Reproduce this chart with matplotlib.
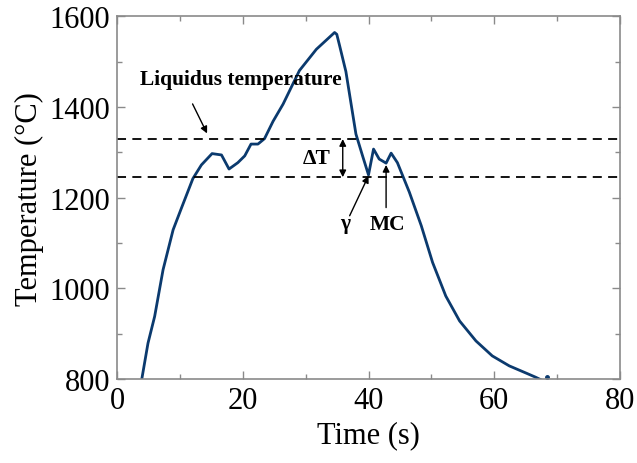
import matplotlib
matplotlib.use('Agg')
import matplotlib.pyplot as plt
from matplotlib.ticker import MultipleLocator

time_s = [3.94, 4.9, 5.96, 7.3, 8.9, 10.2, 12.05, 13.4, 15.1, 16.6, 17.8, 19.2,
          20.3, 21.3, 22.4, 23.45, 24.8, 26.4, 29.0, 31.7, 34.6, 34.95, 35.4,
          36.4, 38.0, 39.1, 40.0, 40.8, 41.7, 42.8, 43.6, 44.6, 46.5, 48.4, 50.2,
          52.3, 54.5, 57.1, 59.7, 62.4, 65.1, 66.6, 67.5]
temp_c = [802, 879, 938, 1041, 1129, 1176, 1242, 1272, 1297, 1294, 1263, 1277,
          1292, 1318, 1318, 1330, 1368, 1406, 1480, 1527, 1564, 1560, 1535,
          1478, 1340, 1290, 1250, 1307, 1285, 1276, 1298, 1277, 1212, 1138, 1057,
          983, 928, 884, 851, 829, 813, 804, 798]
dot_t, dot_T = [68.4], [804]

liquidus_T = 1329
gamma_T = 1245

navy = '#0b3a6e'
grey = '#8a8a8a'

plt.rcParams['font.family'] = ['Liberation Serif', 'DejaVu Serif']
fig = plt.figure(figsize=(6.37, 4.64), dpi=100)
ax = fig.add_axes([0.184, 0.181, 0.789, 0.782])

ax.plot(time_s, temp_c, color=navy, linewidth=2.0, clip_on=True)
ax.plot(dot_t, dot_T, 'o', color=navy, markersize=2.5)

ax.axhline(liquidus_T, color='black', linestyle=(0, (5, 3.5)), linewidth=1.3)
ax.axhline(gamma_T, color='black', linestyle=(0, (5, 3.5)), linewidth=1.3)

bold = dict(fontsize=15.5, fontweight='bold')
ax.text(19.6, 1461, 'Liquidus temperature', ha='center', va='center', **bold)
ax.annotate('', xy=(14.5, 1336), xytext=(11.8, 1412),
            arrowprops=dict(arrowstyle='-|>', color='black', lw=1.0, mutation_scale=10))
ax.annotate('', xy=(35.9, liquidus_T), xytext=(35.9, gamma_T),
            arrowprops=dict(arrowstyle='<|-|>', color='black', lw=1.0, mutation_scale=10,
                            shrinkA=0, shrinkB=0))
ax.text(31.7, 1287, '\u0394T', ha='center', va='center', **bold)
ax.annotate('', xy=(40.0, 1248), xytext=(37.0, 1160),
            arrowprops=dict(arrowstyle='-|>', color='black', lw=1.0, mutation_scale=10,
                            shrinkA=0, shrinkB=0))
ax.text(36.2, 1143, '\u03b3', ha='center', va='center', **bold)
ax.annotate('', xy=(42.8, 1272), xytext=(42.8, 1178),
            arrowprops=dict(arrowstyle='-|>', color='black', lw=1.0, mutation_scale=10,
                            shrinkA=0, shrinkB=0))
ax.text(43.05, 1142, 'MC', ha='center', va='center', **bold)

ax.set_xlim(0, 80)
ax.set_ylim(800, 1600)
ax.xaxis.set_major_locator(MultipleLocator(20))
ax.xaxis.set_minor_locator(MultipleLocator(10))
ax.yaxis.set_major_locator(MultipleLocator(200))
ax.yaxis.set_minor_locator(MultipleLocator(100))
ax.tick_params(which='both', direction='in', top=True, right=True, color=grey,
               labelsize=22, pad=5)
ax.tick_params(which='major', length=6, width=1)
ax.tick_params(which='minor', length=3.5, width=1)
for sp in ax.spines.values():
    sp.set_color(grey)
    sp.set_linewidth(1.2)

ax.set_xlabel('Time (s)', fontsize=22, labelpad=4)
ax.set_ylabel('Temperature (\u00b0C)', fontsize=22, labelpad=4)

fig.savefig('out.png', dpi=100)
